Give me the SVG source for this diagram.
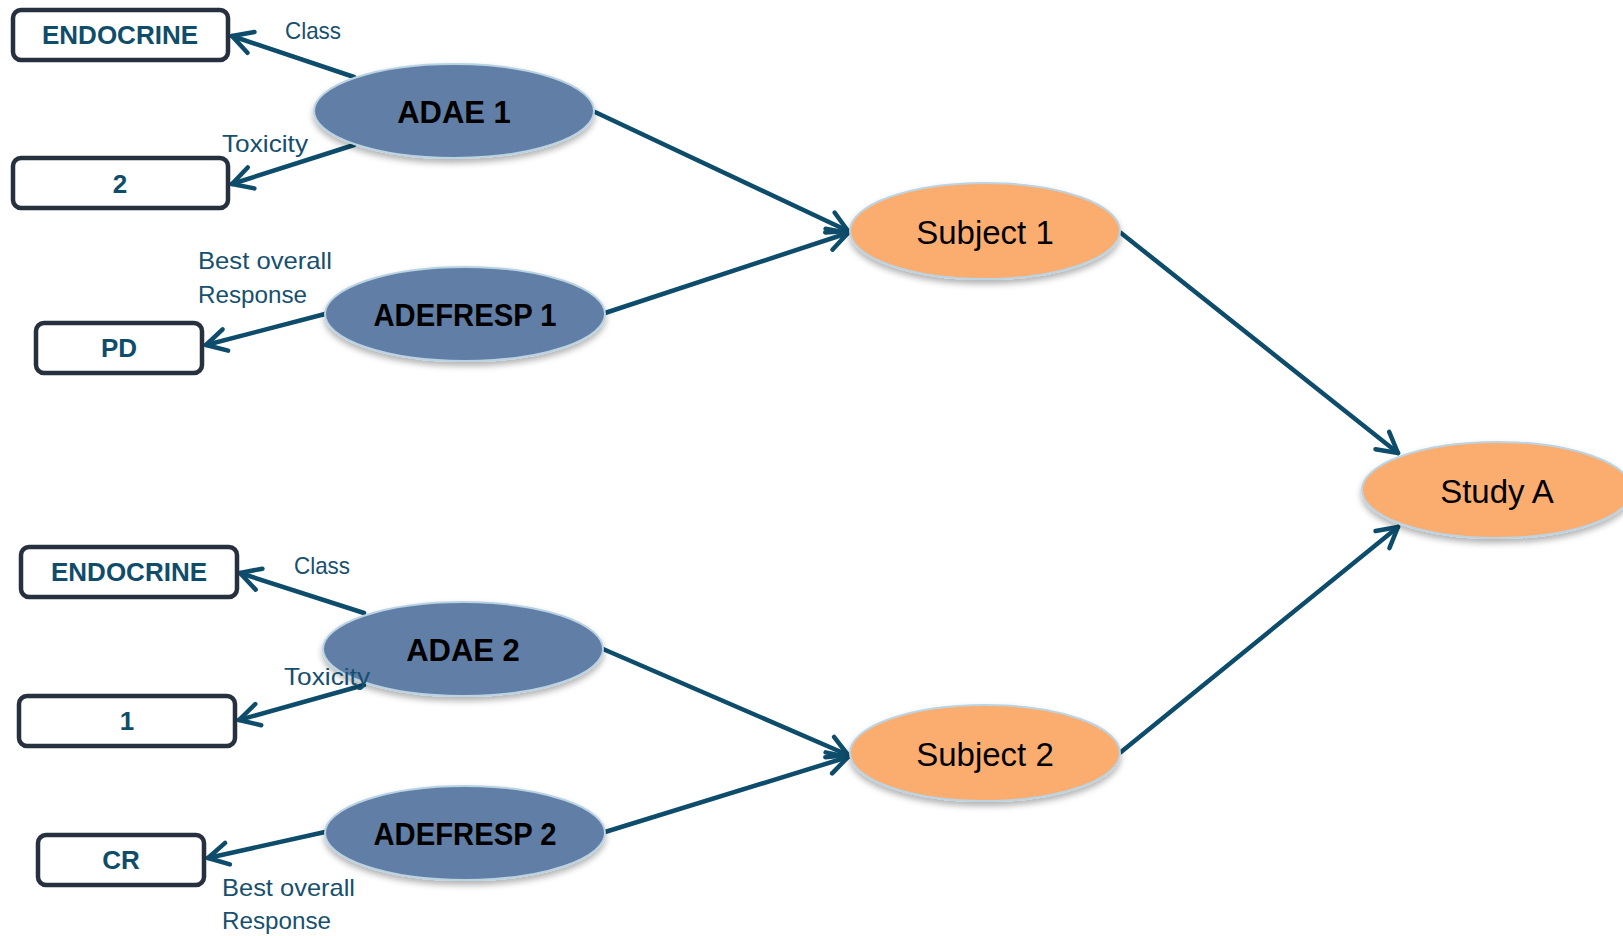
<svg xmlns="http://www.w3.org/2000/svg" width="1623" height="936" viewBox="0 0 1623 936">
  <style>
    .box { fill: #ffffff; stroke: #26303e; stroke-width: 4.5; }
    .boxtxt { font-family: "Liberation Sans", Arial, sans-serif; font-weight: bold; font-size: 26px; fill: #0f4d6b; text-anchor: middle; }
    .blue { fill: #617ea6; stroke: #b9d3e3; stroke-width: 2; filter: url(#shadow); }
    .orange { fill: #fbad6f; stroke: #bcd4e2; stroke-width: 2; filter: url(#shadow); }
    .btxt { font-family: "Liberation Sans", Arial, sans-serif; font-weight: bold; font-size: 31px; fill: #000000; text-anchor: middle; }
    .otxt { font-family: "Liberation Sans", Arial, sans-serif; font-size: 33px; fill: #000000; text-anchor: middle; }
    .lbl { font-family: "Liberation Sans", Arial, sans-serif; font-size: 24px; fill: #17506e; }
    .edge { fill: none; stroke: #0d4c6b; stroke-width: 4.5; stroke-linecap: round; marker-end: url(#arrow); }
  </style>
  <defs>
    <filter id="shadow" x="-10%" y="-15%" width="120%" height="140%">
      <feDropShadow dx="0" dy="4" stdDeviation="3" flood-color="#000000" flood-opacity="0.3"/>
    </filter>
    <marker id="arrow" markerUnits="userSpaceOnUse" viewBox="-26 -16 32 32" refX="0" refY="0" markerWidth="32" markerHeight="32" orient="auto" overflow="visible">
      <path d="M-20,-11 L0,0 L-20,11" fill="none" stroke="#0d4c6b" stroke-width="4.5" stroke-linecap="round" stroke-linejoin="round"/>
    </marker>
  </defs>
  <rect width="1623" height="936" fill="#ffffff"/>

  <!-- connectors -->
  <g id="connectors">
    <line class="edge" x1="354" y1="77" x2="232" y2="36"/>
    <line class="edge" x1="354" y1="145" x2="232" y2="184"/>
    <line class="edge" x1="325" y1="314" x2="206" y2="345"/>
    <line class="edge" x1="595" y1="112" x2="848" y2="231"/>
    <line class="edge" x1="605" y1="313" x2="848" y2="233"/>
    <line class="edge" x1="1121" y1="233" x2="1398" y2="453"/>
    <line class="edge" x1="364" y1="613" x2="240" y2="573"/>
    <line class="edge" x1="364" y1="685" x2="239" y2="720"/>
    <line class="edge" x1="325" y1="832" x2="208" y2="858"/>
    <line class="edge" x1="603" y1="649" x2="848" y2="755"/>
    <line class="edge" x1="605" y1="832" x2="848" y2="757"/>
    <line class="edge" x1="1121" y1="752" x2="1398" y2="527"/>
  </g>

  <!-- value boxes -->
  <g id="box-endocrine-1"><rect class="box" x="13" y="10" width="215" height="50" rx="8"/><text class="boxtxt" x="120" y="44">ENDOCRINE</text></g>
  <g id="box-tox-2"><rect class="box" x="13" y="158" width="215" height="50" rx="8"/><text class="boxtxt" x="120" y="193">2</text></g>
  <g id="box-pd"><rect class="box" x="36" y="323" width="166" height="50" rx="8"/><text class="boxtxt" x="119" y="357">PD</text></g>
  <g id="box-endocrine-2"><rect class="box" x="21" y="547" width="216" height="50" rx="8"/><text class="boxtxt" x="129" y="581">ENDOCRINE</text></g>
  <g id="box-tox-1"><rect class="box" x="19" y="696" width="216" height="50" rx="8"/><text class="boxtxt" x="127" y="730">1</text></g>
  <g id="box-cr"><rect class="box" x="38" y="835" width="166" height="50" rx="8"/><text class="boxtxt" x="121" y="869">CR</text></g>

  <!-- record nodes -->
  <g id="adae-1"><ellipse class="blue" cx="454" cy="111" rx="140" ry="47"/><text class="btxt" x="454" y="123">ADAE 1</text></g>
  <g id="adefresp-1"><ellipse class="blue" cx="465" cy="314" rx="140" ry="47"/><text class="btxt" x="465" y="326" textLength="183" lengthAdjust="spacingAndGlyphs">ADEFRESP 1</text></g>
  <g id="adae-2"><ellipse class="blue" cx="463" cy="649" rx="140" ry="47"/><text class="btxt" x="463" y="661">ADAE 2</text></g>
  <g id="adefresp-2"><ellipse class="blue" cx="465" cy="833" rx="140" ry="47"/><text class="btxt" x="465" y="845" textLength="183" lengthAdjust="spacingAndGlyphs">ADEFRESP 2</text></g>

  <!-- subject and study nodes -->
  <g id="subject-1"><ellipse class="orange" cx="985" cy="231" rx="135" ry="48"/><text class="otxt" x="985" y="244">Subject 1</text></g>
  <g id="subject-2"><ellipse class="orange" cx="985" cy="753" rx="135" ry="48"/><text class="otxt" x="985" y="766">Subject 2</text></g>
  <g id="study-a"><ellipse class="orange" cx="1497" cy="490" rx="135" ry="48"/><text class="otxt" x="1497" y="503">Study A</text></g>

  <!-- edge labels, drawn last so they sit above the nodes -->
  <g id="edge-labels">
    <text class="lbl" x="285" y="39" textLength="56" lengthAdjust="spacingAndGlyphs">Class</text>
    <text class="lbl" x="222" y="152" textLength="86" lengthAdjust="spacingAndGlyphs">Toxicity</text>
    <text class="lbl" x="198" y="269" textLength="134" lengthAdjust="spacingAndGlyphs">Best overall</text>
    <text class="lbl" x="198" y="303" textLength="109" lengthAdjust="spacingAndGlyphs">Response</text>
    <text class="lbl" x="294" y="574" textLength="56" lengthAdjust="spacingAndGlyphs">Class</text>
    <text class="lbl" x="284" y="685" textLength="86" lengthAdjust="spacingAndGlyphs">Toxicity</text>
    <text class="lbl" x="222" y="896" textLength="133" lengthAdjust="spacingAndGlyphs">Best overall</text>
    <text class="lbl" x="222" y="929" textLength="109" lengthAdjust="spacingAndGlyphs">Response</text>
  </g>
</svg>
